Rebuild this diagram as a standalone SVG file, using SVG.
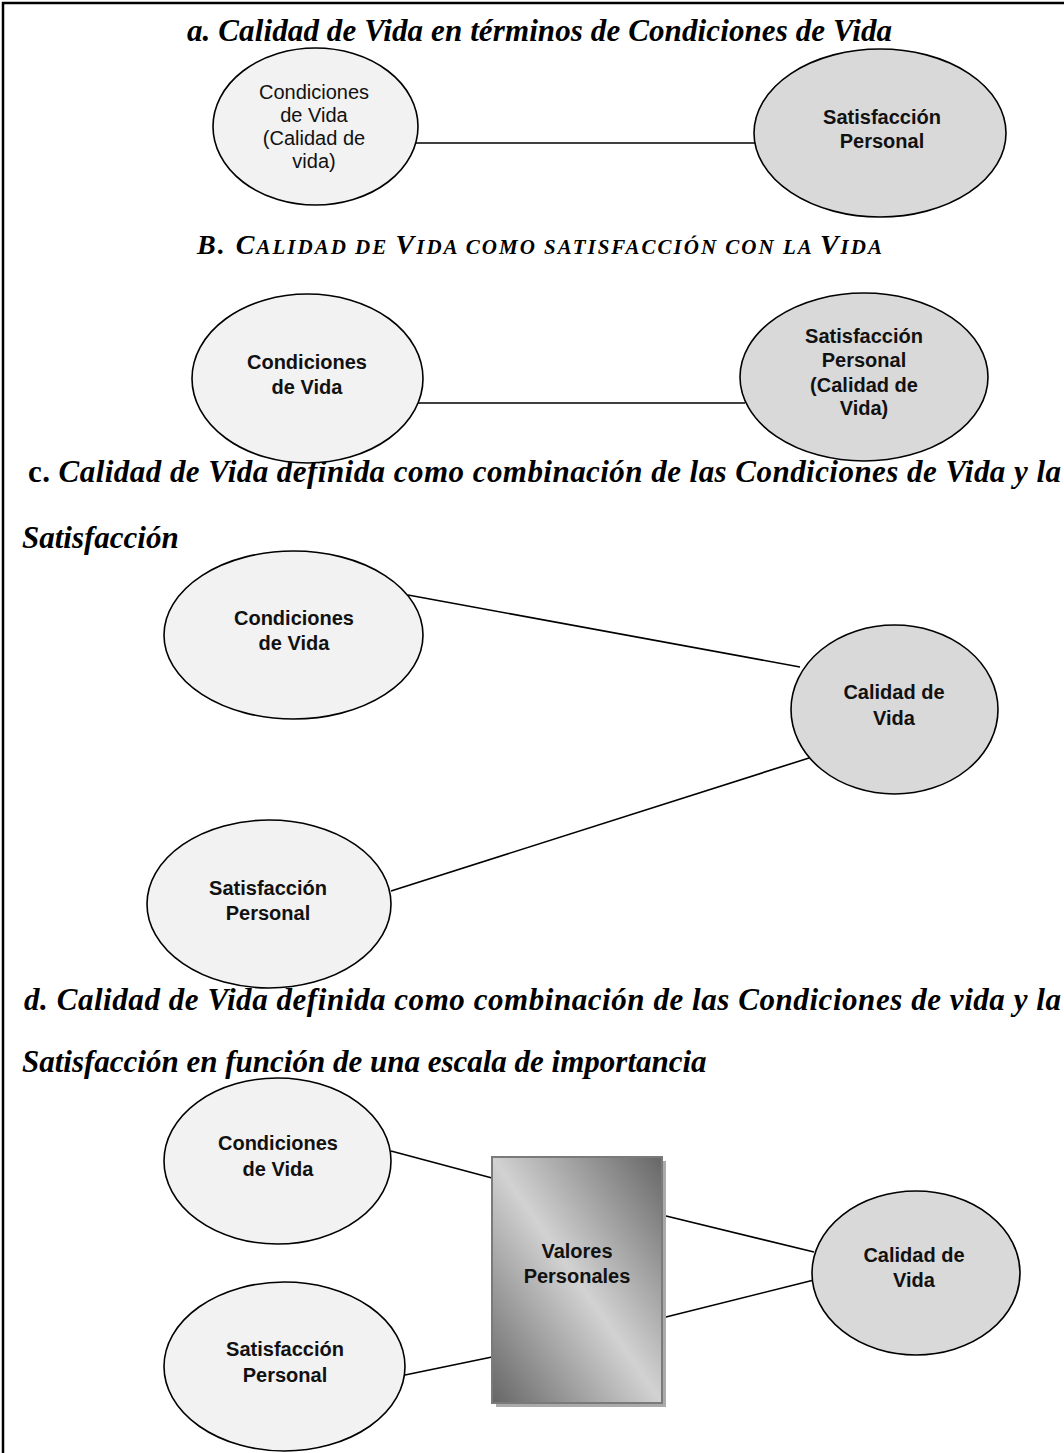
<svg xmlns="http://www.w3.org/2000/svg" width="1064" height="1453" viewBox="0 0 1064 1453">
<style>
.title{font-family:'Liberation Serif','Times New Roman',Times,serif;font-weight:700;font-style:italic;font-size:31px;fill:#000}
.node ellipse{stroke:#000;stroke-width:1.6}
.light{fill:#f2f2f2}
.dark{fill:#d9d9d9}
.lbl{font-family:'Liberation Sans',Arial,Helvetica,sans-serif;font-size:20px;font-weight:700;fill:#111;text-anchor:middle}
.reg{font-weight:400}
.conn line{stroke:#000;stroke-width:1.6}
</style>
<defs>
<linearGradient id="boxGrad" x1="1" y1="0" x2="0" y2="1">
<stop offset="0" stop-color="#666"/>
<stop offset="0.5" stop-color="#d2d2d2"/>
<stop offset="1" stop-color="#666"/>
</linearGradient>
</defs>
<rect width="1064" height="1453" fill="#fff"/>
<path d="M3,1453 V3 H1064" fill="none" stroke="#000" stroke-width="2.5"/>

<g id="titles">
<text class="title" x="187" y="41" textLength="705" lengthAdjust="spacing">a. Calidad de Vida en términos de Condiciones de Vida</text>
<text class="title" x="197" y="254" textLength="685" lengthAdjust="spacing"><tspan font-size="28">B. C</tspan><tspan font-size="21">ALIDAD DE </tspan><tspan font-size="28">V</tspan><tspan font-size="21">IDA COMO SATISFACCIÓN CON LA </tspan><tspan font-size="28">V</tspan><tspan font-size="21">IDA</tspan></text>
<text class="title" x="28" y="482" textLength="1033" lengthAdjust="spacing"><tspan font-style="normal">c.</tspan> Calidad de Vida definida como combinación de las Condiciones de Vida y la</text>
<text class="title" x="22" y="548">Satisfacción</text>
<text class="title" x="24" y="1010" textLength="1037" lengthAdjust="spacing">d. Calidad de Vida definida como combinación de las Condiciones de vida y la</text>
<text class="title" x="22" y="1072">Satisfacción en función de una escala de importancia</text>
</g>

<g id="connectors" class="conn">
<line x1="416" y1="143" x2="756" y2="143"/>
<line x1="418" y1="403" x2="745" y2="403"/>
<line x1="408" y1="595" x2="800" y2="667"/>
<line x1="391" y1="891" x2="809" y2="758"/>
<line x1="391" y1="1151" x2="492" y2="1178"/>
<line x1="405" y1="1375" x2="492" y2="1357"/>
<line x1="662" y1="1215" x2="814" y2="1252"/>
<line x1="662" y1="1318" x2="814" y2="1280"/>
</g>

<g id="a-condiciones" class="node">
<ellipse class="light" cx="315.5" cy="126.5" rx="102.5" ry="78.5"/>
<text class="lbl reg"><tspan x="314" y="99">Condiciones</tspan><tspan x="314" y="122">de Vida</tspan><tspan x="314" y="145">(Calidad de</tspan><tspan x="314" y="168">vida)</tspan></text>
</g>
<g id="a-satisfaccion" class="node">
<ellipse class="dark" cx="880" cy="133" rx="126" ry="84"/>
<text class="lbl"><tspan x="882" y="124">Satisfacción</tspan><tspan x="882" y="148">Personal</tspan></text>
</g>

<g id="b-condiciones" class="node">
<ellipse class="light" cx="307.5" cy="378.5" rx="115.5" ry="84.5"/>
<text class="lbl"><tspan x="307" y="369">Condiciones</tspan><tspan x="307" y="394">de Vida</tspan></text>
</g>
<g id="b-satisfaccion" class="node">
<ellipse class="dark" cx="864" cy="377" rx="124" ry="84"/>
<text class="lbl"><tspan x="864" y="343">Satisfacción</tspan><tspan x="864" y="367">Personal</tspan><tspan x="864" y="392">(Calidad de</tspan><tspan x="864" y="415">Vida)</tspan></text>
</g>

<g id="c-condiciones" class="node">
<ellipse class="light" cx="293.5" cy="635" rx="129.5" ry="84"/>
<text class="lbl"><tspan x="294" y="625">Condiciones</tspan><tspan x="294" y="650">de Vida</tspan></text>
</g>
<g id="c-calidad" class="node">
<ellipse class="dark" cx="894.5" cy="709.5" rx="103.5" ry="84.5"/>
<text class="lbl"><tspan x="894" y="699">Calidad de</tspan><tspan x="894" y="725">Vida</tspan></text>
</g>
<g id="c-satisfaccion" class="node">
<ellipse class="light" cx="269" cy="904" rx="122" ry="84"/>
<text class="lbl"><tspan x="268" y="895">Satisfacción</tspan><tspan x="268" y="920">Personal</tspan></text>
</g>

<g id="d-condiciones" class="node">
<ellipse class="light" cx="277.5" cy="1161" rx="113.5" ry="83"/>
<text class="lbl"><tspan x="278" y="1150">Condiciones</tspan><tspan x="278" y="1176">de Vida</tspan></text>
</g>
<g id="d-satisfaccion" class="node">
<ellipse class="light" cx="284.5" cy="1366.5" rx="120.5" ry="84.5"/>
<text class="lbl"><tspan x="285" y="1356">Satisfacción</tspan><tspan x="285" y="1382">Personal</tspan></text>
</g>
<g id="d-valores" class="node">
<rect x="496" y="1161" width="170" height="246" fill="#aaa"/>
<rect x="492" y="1157" width="170" height="246" fill="url(#boxGrad)" stroke="#7a7a7a" stroke-width="2"/>
<text class="lbl"><tspan x="577" y="1258">Valores</tspan><tspan x="577" y="1283">Personales</tspan></text>
</g>
<g id="d-calidad" class="node">
<ellipse class="dark" cx="916" cy="1273" rx="104" ry="82"/>
<text class="lbl"><tspan x="914" y="1262">Calidad de</tspan><tspan x="914" y="1287">Vida</tspan></text>
</g>
</svg>
